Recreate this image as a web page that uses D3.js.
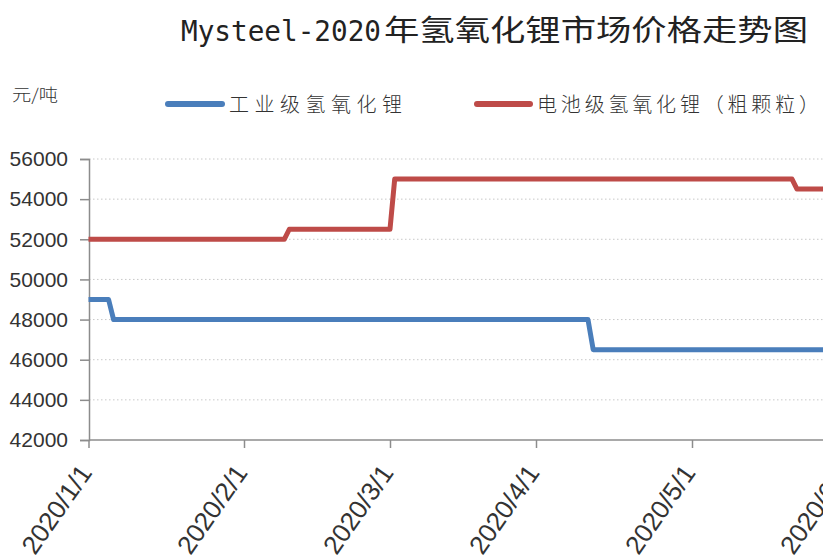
<!DOCTYPE html>
<html>
<head>
<meta charset="utf-8">
<script src="https://cdn.jsdelivr.net/npm/d3@7"></script>
<style>
  html, body { margin: 0; padding: 0; background: #fff; overflow: hidden; }
  svg { display: block; }
</style>
</head>
<body>
<svg id="chart" width="823" height="558"></svg>
<script>
// data
const seriesNames = ["工业级氢氧化锂", "电池级氢氧化锂（粗颗粒）"];
const industrialDates = ["2020-01-01", "2020-01-05", "2020-01-06", "2020-04-11", "2020-04-12", "2020-06-01"];
const industrialPrices = [49000, 49000, 48000, 48000, 46500, 46500];
const batteryDates = ["2020-01-01", "2020-02-09", "2020-02-10", "2020-03-01", "2020-03-02", "2020-05-21", "2020-05-22", "2020-06-01"];
const batteryPrices = [52000, 52000, 52500, 52500, 55000, 55000, 54500, 54500];
const monthTicks = ["2020-01-01", "2020-02-01", "2020-03-01", "2020-04-01", "2020-05-01", "2020-06-01"];
const yTicks = [42000, 44000, 46000, 48000, 50000, 52000, 54000, 56000];

const parseDate = d3.timeParse("%Y-%m-%d");
const fmtDate = d3.timeFormat("%Y/%-m/%-d");

const svg = d3.select("#chart");
const W = 823, H = 558;

// axis positions (category-like spacing in the original, so a piecewise time scale)
const x = d3.scaleTime()
  .domain(monthTicks.map(parseDate))
  .range([88.5, 244, 390, 536, 692, 847]);

const y = d3.scaleLinear()
  .domain([42000, 56000])
  .range([440, 159]);

// title: latin part is narrow, the chinese part wide
const title = svg.append("g")
  .style("font-size", "29px")
  .style("fill", "#222");
title.append("text")
  .attr("x", 181)
  .attr("y", 41)
  .attr("textLength", 200)
  .attr("lengthAdjust", "spacingAndGlyphs")
  .style("font-family", "'DejaVu Sans Mono', monospace")
  .text("Mysteel-2020");
title.append("text")
  .attr("x", 384)
  .attr("y", 41)
  .attr("textLength", 424)
  .attr("lengthAdjust", "spacingAndGlyphs")
  .style("font-family", "'Noto Sans CJK SC', sans-serif")
  .text("年氢氧化锂市场价格走势图");

// unit
svg.append("text")
  .attr("x", 12)
  .attr("y", 101)
  .attr("textLength", 46)
  .attr("lengthAdjust", "spacingAndGlyphs")
  .style("font-family", "'Noto Sans CJK SC', sans-serif")
  .style("font-weight", 300)
  .style("font-size", "17px")
  .style("fill", "#333")
  .text("元/吨");

// gridlines
svg.append("g")
  .selectAll("line")
  .data(yTicks.filter((d) => d !== 42000))
  .join("line")
  .attr("x1", 89)
  .attr("x2", W)
  .attr("y1", (d) => y(d))
  .attr("y2", (d) => y(d))
  .style("stroke", "#c8c8c8")
  .style("stroke-width", 1)
  .style("stroke-dasharray", "1.5,2.5");

// y axis
const yAxis = svg.append("g")
  .attr("transform", "translate(89,0)")
  .call(d3.axisLeft(y).tickValues(yTicks).tickSize(9).tickPadding(12).tickFormat(d3.format("d")));
yAxis.selectAll("text")
  .style("font-family", "'Liberation Sans', Arial, sans-serif")
  .style("font-size", "21px")
  .style("fill", "#333");

// x axis
const xAxis = svg.append("g")
  .attr("transform", "translate(0,440)")
  .call(d3.axisBottom(x).tickValues(monthTicks.map(parseDate)).tickSize(8).tickFormat(fmtDate));
xAxis.select(".domain").attr("d", `M89,0H${W}`);
xAxis.selectAll("text")
  .attr("text-anchor", "end")
  .attr("dy", null)
  .attr("y", null)
  .attr("transform", "translate(4,33) rotate(-55)")
  .style("font-family", "'Liberation Sans', Arial, sans-serif")
  .style("font-size", "26px")
  .style("fill", "#333");

svg.selectAll(".domain, .tick line")
  .style("stroke", "#8c8c8c")
  .style("stroke-width", 1.5);

// lines
const colors = ["#4a7ebb", "#be4b48"];
const series = [
  industrialDates.map((d, i) => ({ date: parseDate(d), value: industrialPrices[i] })),
  batteryDates.map((d, i) => ({ date: parseDate(d), value: batteryPrices[i] })),
];

const line = d3.line()
  .x((d) => x(d.date))
  .y((d) => y(d.value));

svg.append("g")
  .selectAll("path")
  .data(series)
  .join("path")
  .attr("d", line)
  .style("fill", "none")
  .style("stroke", (d, i) => colors[i])
  .style("stroke-width", 5)
  .style("stroke-linejoin", "round");

// legend
const legendItems = [
  { x1: 168, x2: 222, tx: 229, tw: 173 },
  { x1: 477, x2: 530, tx: 537, tw: 282 },
];
const legend = svg.append("g");
legend.selectAll("line")
  .data(legendItems)
  .join("line")
  .attr("x1", (d) => d.x1)
  .attr("x2", (d) => d.x2)
  .attr("y1", 104)
  .attr("y2", 104)
  .style("stroke", (d, i) => colors[i])
  .style("stroke-width", 6)
  .style("stroke-linecap", "round");
legend.selectAll("text")
  .data(legendItems)
  .join("text")
  .attr("x", (d) => d.tx)
  .attr("y", 112)
  .attr("textLength", (d) => d.tw)
  .attr("lengthAdjust", "spacing")
  .style("font-family", "'Noto Sans CJK SC', sans-serif")
  .style("font-weight", 300)
  .style("font-size", "20px")
  .style("fill", "#333")
  .text((d, i) => seriesNames[i]);
</script>
</body>
</html>
